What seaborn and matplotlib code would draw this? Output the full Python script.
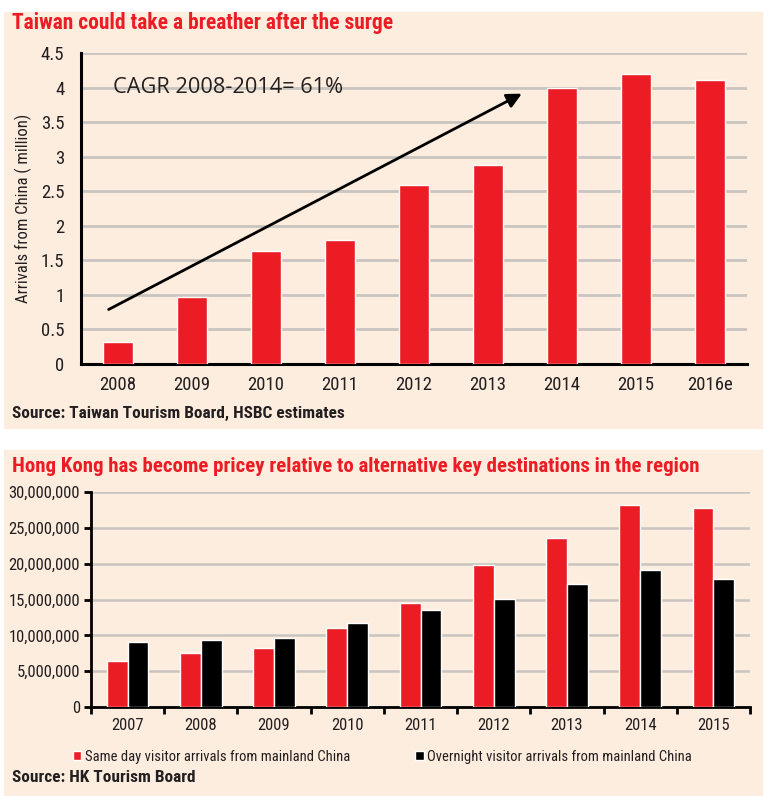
import numpy as np
import pandas as pd
import matplotlib
matplotlib.use('Agg')
import matplotlib.pyplot as plt
from matplotlib.patches import Rectangle
from matplotlib.font_manager import fontManager
from matplotlib.ticker import MultipleLocator, FuncFormatter
import seaborn as sns

sns.set_style('ticks')

names = {f.name for f in fontManager.ttflist}
narrow = 'DejaVu Sans'
for cand in ['Liberation Sans Narrow', 'Roboto Condensed', 'Open Sans Condensed',
             'Arial Narrow', 'Liberation Sans', 'Roboto']:
    if cand in names:
        narrow = cand
        break
plt.rcParams['font.family'] = [narrow, 'DejaVu Sans']

# --- data ---
tw_years = ['2008', '2009', '2010', '2011', '2012', '2013', '2014', '2015', '2016e']
tw_arrivals = [0.32, 0.97, 1.63, 1.79, 2.59, 2.88, 4.0, 4.2, 4.11]

hk_years = ['2007', '2008', '2009', '2010', '2011', '2012', '2013', '2014', '2015']
hk_same_day = [6360000, 7480000, 8270000, 10960000, 14500000, 19800000,
               23600000, 28200000, 27800000]
hk_overnight = [9070000, 9340000, 9620000, 11660000, 13570000, 15100000,
                17100000, 19100000, 17900000]
hk_labels = ['Same day visitor arrivals from mainland China',
             'Overnight visitor arrivals from mainland China']

RED = '#ec1c24'
BG = '#fdeddf'
GRID = '#c9c4bf'
TXT = '#231f20'

W, H = 770, 796
fig = plt.figure(figsize=(W / 100, H / 100), dpi=100)


def fx(px):
    return px / W


def fy(py):
    return 1 - py / H


# beige panels
for top, bot in [(12, 428), (450, 796)]:
    fig.patches.append(Rectangle((fx(4), fy(bot)), fx(762) - fx(4), fy(top) - fy(bot),
                                 transform=fig.transFigure, color=BG, zorder=-5))

# --- Taiwan chart ---
ax1 = fig.add_axes([fx(81), fy(364), fx(747) - fx(81), fy(53) - fy(364)])
ax1.set_facecolor('none')
tw = pd.DataFrame({'year': tw_years, 'arrivals': tw_arrivals})
sns.barplot(data=tw, x='year', y='arrivals', color=RED, width=0.4,
            saturation=1, ax=ax1, zorder=3)
ax1.set_xlim(-0.5, 8.5)
ax1.set_ylim(0, 4.5)
ax1.yaxis.set_major_locator(MultipleLocator(0.5))
ax1.yaxis.set_major_formatter(FuncFormatter(lambda v, p: f'{v:g}'))
ax1.grid(axis='y', color=GRID, lw=2, zorder=0)
ax1.set_axisbelow(True)
ax1.tick_params(axis='both', length=0, labelsize=13.5, colors=TXT)
ax1.tick_params(axis='x', pad=9)
ax1.tick_params(axis='y', pad=12)
ax1.set_xlabel('')
ax1.set_ylabel('Arrivals from China ( million)', fontsize=12, color=TXT, labelpad=6)
for s in ['top', 'right']:
    ax1.spines[s].set_visible(False)
for s in ['left', 'bottom']:
    ax1.spines[s].set_linewidth(2.2)
    ax1.spines[s].set_color('black')
ax1.annotate('', xy=(5.49, 3.93), xytext=(-0.16, 0.77),
             arrowprops=dict(arrowstyle='-|>', color='black', lw=2,
                             mutation_scale=22), zorder=5)
ax1.text(-0.07, 4.0, 'CAGR 2008-2014= 61%', fontsize=15.7, family='Open Sans',
         color=TXT, va='center', ha='left', zorder=5)

fig.text(fx(12), fy(23), 'Taiwan could take a breather after the surge',
         fontsize=15.5, fontweight='bold', color=RED, va='center', ha='left')
fig.text(fx(12), fy(413), 'Source: Taiwan Tourism Board, HSBC estimates',
         fontsize=12.4, fontweight='bold', color=TXT, va='center', ha='left')

# --- Hong Kong chart ---
ax2 = fig.add_axes([fx(91), fy(707), fx(750) - fx(91), fy(492) - fy(707)])
ax2.set_facecolor('none')
hk = pd.DataFrame({
    'year': hk_years * 2,
    'arrivals': hk_same_day + hk_overnight,
    'type': [hk_labels[0]] * len(hk_years) + [hk_labels[1]] * len(hk_years),
})
sns.barplot(data=hk, x='year', y='arrivals', hue='type', palette=[RED, 'black'],
            width=0.57, saturation=1, ax=ax2, zorder=3)
ax2.set_xlim(-0.5, 8.5)
ax2.set_ylim(0, 30000000)
ax2.yaxis.set_major_locator(MultipleLocator(5000000))
ax2.yaxis.set_major_formatter(FuncFormatter(lambda v, p: f'{v:,.0f}'))
ax2.grid(axis='y', color=GRID, lw=1.8, zorder=0)
ax2.set_axisbelow(True)
ax2.set_xticks(np.arange(len(hk_years)))
ax2.set_xticks(np.arange(len(hk_years) + 1) - 0.5, minor=True)
ax2.tick_params(axis='x', which='major', length=0, labelsize=12, colors=TXT, pad=8)
ax2.tick_params(axis='x', which='minor', length=5, width=2, color='black')
ax2.tick_params(axis='y', length=5, width=2, color='black', labelsize=12,
                labelcolor=TXT, pad=3)
ax2.set_xlabel('')
ax2.set_ylabel('')
for s in ['top', 'right']:
    ax2.spines[s].set_visible(False)
for s in ['left', 'bottom']:
    ax2.spines[s].set_linewidth(2)
    ax2.spines[s].set_color('black')
handles, labels = ax2.get_legend_handles_labels()
ax2.legend(handles, labels, loc='center left', bbox_to_anchor=(fx(73), fy(757)),
           bbox_transform=fig.transFigure, ncol=2, frameon=False, fontsize=10.5,
           borderpad=0, borderaxespad=0,
           handlelength=0.58, handleheight=0.58, handletextpad=0.25,
           columnspacing=4.45, labelcolor=TXT)

fig.text(fx(12), fy(466), 'Hong Kong has become pricey relative to alternative key destinations in the region',
         fontsize=15, fontweight='bold', color=RED, va='center', ha='left')
fig.text(fx(12), fy(778), 'Source: HK Tourism Board',
         fontsize=12.4, fontweight='bold', color=TXT, va='center', ha='left')

fig.savefig('out.png', dpi=100)
